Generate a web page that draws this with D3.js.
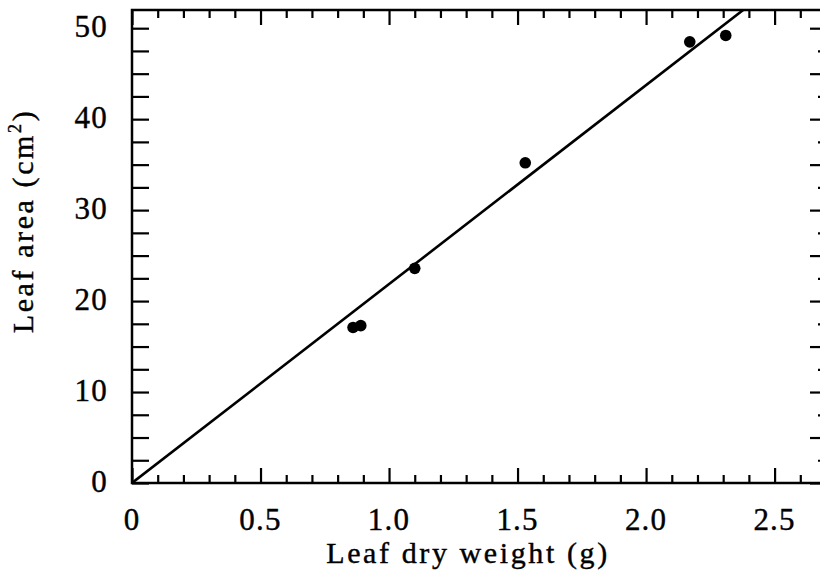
<!DOCTYPE html>
<html>
<head>
<meta charset="utf-8">
<script src="https://cdn.jsdelivr.net/npm/d3@7"></script>
<style>
  html, body { margin: 0; padding: 0; background: #fff; }
  svg { display: block; overflow: hidden; }
  text { font-family: "Liberation Serif", "Times New Roman", serif; fill: #000; stroke: #000; stroke-width: 0.4px; }
</style>
</head>
<body>
<svg id="chart" width="820" height="582"></svg>
<script>
// Leaf dry weight (g) and leaf area (cm²) measurements
const dryWeight = [0.86, 0.89, 1.10, 1.53, 2.17, 2.31];
const leafArea  = [17.1, 17.3, 23.6, 35.2, 48.5, 49.2];

// Fitted regression through the origin: area = slope * weight
const fitSlope = 21.87;

const xTickValues = [0, 0.5, 1.0, 1.5, 2.0, 2.5];
const xTickLabels = ["0", "0.5", "1.0", "1.5", "2.0", "2.5"];
const yTickValues = [0, 10, 20, 30, 40, 50];
const yTickLabels = ["0", "10", "20", "30", "40", "50"];

const svg = d3.select("#chart");
const plotLeft = 132, plotRight = 826, plotTop = 10, plotBottom = 483;

const x = d3.scaleLinear().domain([0, 2.7]).range([plotLeft, plotRight]);
const y = d3.scaleLinear().domain([0, 52]).range([plotBottom, plotTop]);

const clipId = "plot-clip";
svg.append("defs").append("clipPath").attr("id", clipId)
  .append("rect").attr("x", plotLeft).attr("y", plotTop)
  .attr("width", plotRight - plotLeft).attr("height", plotBottom - plotTop);

// Frame
svg.append("rect")
  .attr("x", plotLeft).attr("y", plotTop)
  .attr("width", plotRight - plotLeft).attr("height", plotBottom - plotTop)
  .attr("fill", "none").attr("stroke", "#000").attr("stroke-width", 2.5);

// Minor ticks every 0.1 on x, major every 0.5
const xMinor = d3.range(0, 27).map(i => i / 10);
const isMajorX = v => Math.abs(v * 2 - Math.round(v * 2)) < 1e-6;

const gb = svg.append("g").attr("transform", `translate(0,${plotBottom})`)
  .call(d3.axisBottom(x).tickValues(xMinor).tickSizeInner(0).tickSizeOuter(0).tickFormat(""));
gb.select(".domain").remove();
gb.selectAll(".tick line")
  .attr("y2", d => isMajorX(d) ? -15 : -8)
  .attr("stroke", "#000").attr("stroke-width", 2.2);

const gt = svg.append("g").attr("transform", `translate(0,${plotTop})`)
  .call(d3.axisTop(x).tickValues(xMinor).tickSizeInner(0).tickSizeOuter(0).tickFormat(""));
gt.select(".domain").remove();
gt.selectAll(".tick line")
  .attr("y2", d => isMajorX(d) ? 15 : 8)
  .attr("stroke", "#000").attr("stroke-width", 2.2);

// y ticks every 2.5
const yMinor = d3.range(0, 21).map(i => i * 2.5);
const gl = svg.append("g").attr("transform", `translate(${plotLeft},0)`)
  .call(d3.axisLeft(y).tickValues(yMinor).tickSizeInner(0).tickSizeOuter(0).tickFormat(""));
gl.select(".domain").remove();
gl.selectAll(".tick line").attr("x2", 17).attr("stroke", "#000").attr("stroke-width", 2.2);

const gr = svg.append("g").attr("transform", `translate(${plotRight},0)`)
  .call(d3.axisRight(y).tickValues(yMinor).tickSizeInner(0).tickSizeOuter(0).tickFormat(""));
gr.select(".domain").remove();
gr.selectAll(".tick line")
  .attr("x2", d => (d % 5 === 0) ? -16 : -8)
  .attr("stroke", "#000").attr("stroke-width", 2.2);

// Tick labels
svg.append("g").selectAll("text").data(xTickValues).join("text")
  .attr("x", d => x(d)).attr("y", 530)
  .attr("text-anchor", "middle").attr("font-size", 31)
  .attr("letter-spacing", 1.2)
  .text((d, i) => xTickLabels[i]);

svg.append("g").selectAll("text").data(yTickValues).join("text")
  .attr("x", 108).attr("y", d => y(d) + 9)
  .attr("text-anchor", "end").attr("font-size", 31)
  .attr("letter-spacing", 1.2)
  .text((d, i) => yTickLabels[i]);

// Axis titles
svg.append("text")
  .attr("x", 468).attr("y", 563)
  .attr("text-anchor", "middle").attr("font-size", 30)
  .attr("letter-spacing", 2.6)
  .text("Leaf dry weight (g)");

const yt = svg.append("text")
  .attr("transform", "translate(33,221) rotate(-90)")
  .attr("text-anchor", "middle").attr("font-size", 30)
  .attr("letter-spacing", 2.6);
yt.append("tspan").text("Leaf area (cm");
yt.append("tspan").attr("font-size", 18).attr("dy", -12).text("2");
yt.append("tspan").attr("dy", 12).text(")");

// Regression line
const plot = svg.append("g").attr("clip-path", `url(#${clipId})`);
const lineX = [0, 2.7];
plot.append("path")
  .datum(lineX)
  .attr("d", d3.line().x(d => x(d)).y(d => y(fitSlope * d)))
  .attr("fill", "none").attr("stroke", "#000").attr("stroke-width", 2.6);

// Observations
svg.append("g").selectAll("circle").data(dryWeight).join("circle")
  .attr("cx", d => x(d))
  .attr("cy", (d, i) => y(leafArea[i]))
  .attr("r", 5.8)
  .attr("fill", "#000");
</script>
</body>
</html>
